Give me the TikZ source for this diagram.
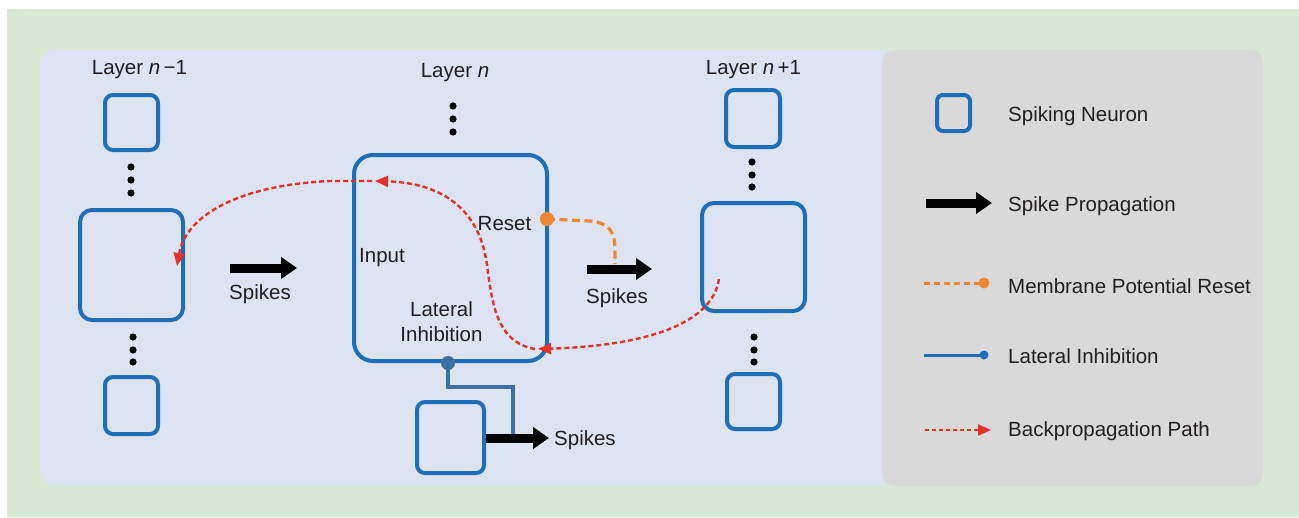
\documentclass[tikz,border=0pt]{standalone}
\usepackage{fontspec}
\setmainfont{Liberation Sans}
\usetikzlibrary{arrows.meta}
\definecolor{bggreen}{HTML}{D8E8D5}
\definecolor{panelblue}{HTML}{DDE3F0}
\definecolor{legendgray}{HTML}{D9D9D9}
\definecolor{nblue}{HTML}{1E6EB8}
\definecolor{lblue}{HTML}{3E6FA3}
\definecolor{rorange}{HTML}{EE8633}
\definecolor{bpred}{HTML}{E4322B}
\definecolor{txt}{HTML}{231F20}
\tikzset{
 neuron/.style={draw=nblue, line width=4pt, rounded corners=8pt, inner sep=0pt, rectangle},
 bigneuron/.style={neuron, rounded corners=12pt},
 lbl/.style={text=txt, font=\fontsize{20.5}{25}\selectfont, inner sep=0pt},
 spikearrow/.style={draw=black, line width=9pt, -{Triangle[length=16pt,width=21pt]}},
 bp/.style={draw=bpred, line width=2.4pt, dash pattern=on 5pt off 3pt, -{Triangle[length=13pt,width=11pt]}},
 resetline/.style={draw=rorange, line width=3.2pt, dash pattern=on 8pt off 4.5pt},
 latline/.style={draw=lblue, line width=3.2pt},
}
\begin{document}
\begin{tikzpicture}[x=1pt,y=-1pt]
\useasboundingbox (0,0) rectangle (1299,517);
% backgrounds
\fill[white] (0,0) rectangle (1299,517);
\fill[bggreen] (7,9) rectangle (1299,517);
\fill[panelblue, rounded corners=15pt] (40,50) rectangle (905,485);
\fill[legendgray, rounded corners=12pt] (882,50) rectangle (1263,486);

% layer labels
\node[lbl] (Lm1) at (139.5,70) {Layer \textit{n}\,−1};
\node[lbl] (Ln) at (455,73) {Layer \textit{n}};
\node[lbl] (Lp1) at (753.5,70) {Layer \textit{n}\,+1};

% layer n-1
\node[neuron, minimum width=53pt, minimum height=55pt] (A1) at (131.5,122.5) {};
\node[bigneuron, minimum width=103pt, minimum height=110pt] (A2) at (131.5,265) {};
\node[neuron, minimum width=53pt, minimum height=57pt] (A3) at (131.5,405.5) {};
\foreach \y in {167,180,193} \fill (131,\y) circle (3.6pt);
\foreach \y in {337,350,362} \fill (133,\y) circle (3.6pt);

% layer n
\foreach \y in {106,119,132} \fill (453,\y) circle (3.6pt);
\node[neuron, rounded corners=19pt, minimum width=193pt, minimum height=206pt] (B) at (450.5,258) {};
\node[neuron, minimum width=67pt, minimum height=71pt] (B2) at (450.5,437.5) {};
\node[lbl] (reset) at (504.5,224) {Reset};
\node[lbl] (input) at (382,258) {Input};
\node[lbl, align=center] (lat) at (441.5,322) {Lateral\\Inhibition};

% layer n+1
\node[neuron, minimum width=54pt, minimum height=57pt] (C1) at (753,118.5) {};
\node[bigneuron, minimum width=103pt, minimum height=108pt] (C2) at (753.5,257) {};
\node[neuron, minimum width=53pt, minimum height=55pt] (C3) at (753.5,401.5) {};
\foreach \y in {162,175,187} \fill (752,\y) circle (3.6pt);
\foreach \y in {337,350,362} \fill (754,\y) circle (3.6pt);

% spike arrows
\coordinate (s1a) at (230,268);
\coordinate (s1b) at (297,268);
\draw[spikearrow] (s1a) -- (s1b);
\node[lbl] (sp1) at (260,294) {Spikes};
\coordinate (s2a) at (587,269);
\coordinate (s2b) at (652,269);
\draw[spikearrow] (s2a) -- (s2b);
\node[lbl] (sp2) at (617,298) {Spikes};
\node[lbl, anchor=west] (sp3) at (554,440) {Spikes};
\coordinate (s3b) at (549,438);
\draw[spikearrow] (B2.east |- s3b) -- (s3b);

% lateral inhibition
\coordinate (latdot) at (448,363);
\coordinate (latend) at (513,434);
\draw[latline] (latdot) -- (448,387) -- (513,387) -- (latend);
\fill[lblue] (latdot) circle (7pt);

% reset
\coordinate (resetdot) at (547,219);
\coordinate (resetend) at (615,264);
\draw[resetline] (resetdot) -- (590,221) .. controls (612,223) and (615,235) .. (615,250) -- (resetend);
\fill[rorange] (resetdot) circle (7pt);

% backpropagation
\coordinate (bp0) at (719,279);
\coordinate (bp1) at (538,349);
\coordinate (bp1s) at (535,349);
\coordinate (bp2) at (375,181);
\coordinate (bp2s) at (372,181);
\coordinate (bp3) at (177,266);
\draw[bp] (bp0) .. controls (712,326) and (640,346) .. (bp1);
\draw[bp] (bp1s) .. controls (495,342) and (492,300) .. (487,265) .. controls (480,212) and (445,183) .. (bp2);
\draw[bp] (bp2s) -- (330,181) .. controls (240,185) and (186,215) .. (bp3);

% legend
\node[neuron, minimum width=33pt, minimum height=36pt, rounded corners=6pt] (Lg1) at (953.5,113) {};
\node[lbl, anchor=west] (Lt1) at (1008,116) {Spiking Neuron};
\node[lbl, anchor=west] (Lt2) at (1008,206) {Spike Propagation};
\node[lbl, anchor=west] (Lt3) at (1008,286) {Membrane Potential Reset};
\node[lbl, anchor=west] (Lt4) at (1008,356) {Lateral Inhibition};
\node[lbl, anchor=west] (Lt5) at (1008,431) {Backpropagation Path};
\coordinate (g2a) at (926,203);
\coordinate (g2b) at (992,203);
\draw[spikearrow] (g2a) -- (g2b);
\coordinate (g3a) at (924,283);
\coordinate (g3b) at (984,283);
\draw[resetline, line width=3pt, dash pattern=on 6pt off 4pt] (g3a) -- (g3b);
\fill[rorange] (g3b) circle (5.5pt);
\coordinate (g4a) at (924,355);
\coordinate (g4b) at (984,355);
\draw[draw=nblue, line width=3pt] (g4a) -- (g4b);
\fill[nblue] (g4b) circle (4.5pt);
\coordinate (g5a) at (925,430);
\coordinate (g5b) at (991,430);
\draw[bp, line width=2.2pt, dash pattern=on 4pt off 3pt] (g5a) -- (g5b);
\end{tikzpicture}
\end{document}
